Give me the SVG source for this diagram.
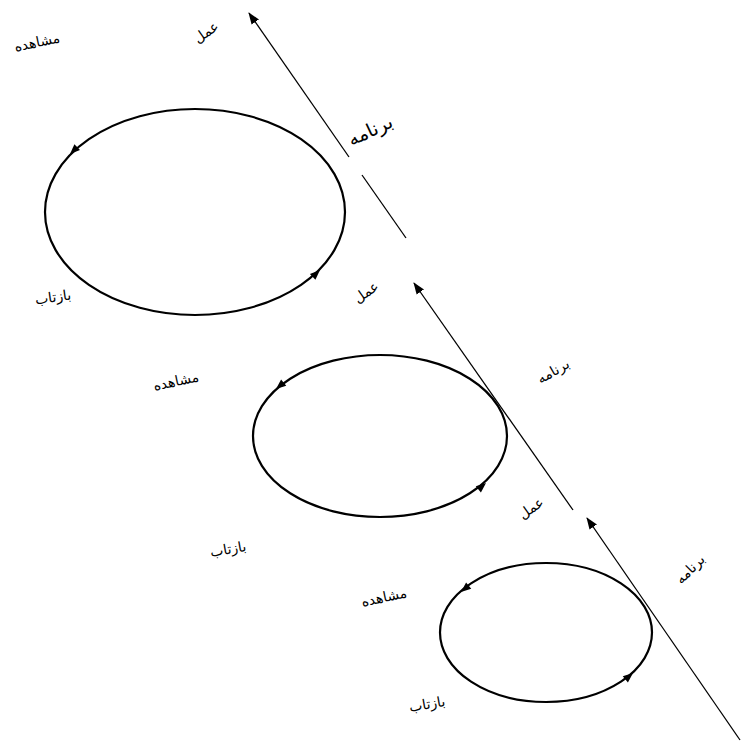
<svg xmlns="http://www.w3.org/2000/svg" xmlns:xlink="http://www.w3.org/1999/xlink" width="741" height="747" viewBox="0 0 741 747">
<style>
  .loop { fill: none; stroke: #000; stroke-width: 2.2; }
  .axis { fill: none; stroke: #000; stroke-width: 1.3; }
  .lbl { font-family: "DejaVu Sans", sans-serif; font-size: 14px; fill: #000; text-anchor: middle; dominant-baseline: central; }
  .big { font-size: 19px; }
</style>
<defs>
  <marker id="arr" markerUnits="userSpaceOnUse" markerWidth="12" markerHeight="10" viewBox="0 0 12 10" refX="11" refY="5" orient="auto">
    <path d="M0,0.5 L12,5 L0,9.5 Z" fill="#000"/>
  </marker>
  <path id="tri" d="M0,0 L-10,-4 L-10,4 Z" fill="#000"/>
</defs>
<rect width="741" height="747" fill="#fff"/>

<g id="connectors">
  <line class="axis" x1="349" y1="157" x2="249" y2="13" marker-end="url(#arr)"/>
  <line class="axis" x1="362" y1="175" x2="406" y2="238"/>
  <line class="axis" x1="573" y1="510" x2="414" y2="283" marker-end="url(#arr)"/>
  <line class="axis" x1="740" y1="740" x2="587" y2="518" marker-end="url(#arr)"/>
</g>

<g id="cycle1">
  <ellipse class="loop" cx="195" cy="212" rx="150" ry="103"/>
  <use xlink:href="#tri" transform="translate(70,154) rotate(136)"/>
  <use xlink:href="#tri" transform="translate(320,270) rotate(-43)"/>
</g>
<g id="cycle2">
  <ellipse class="loop" cx="380" cy="436" rx="127" ry="81"/>
  <use xlink:href="#tri" transform="translate(276,389) rotate(140)"/>
  <use xlink:href="#tri" transform="translate(486,483) rotate(-40)"/>
</g>
<g id="cycle3">
  <ellipse class="loop" cx="546" cy="632.5" rx="106" ry="69.5"/>
  <use xlink:href="#tri" transform="translate(461,592) rotate(140)"/>
  <use xlink:href="#tri" transform="translate(633,673) rotate(-40)"/>
</g>

<g id="labels">
  <text class="lbl" direction="rtl" transform="translate(37,42) rotate(-12)">مشاهده</text>
  <text class="lbl" direction="rtl" transform="translate(206,32) rotate(-35)">عمل</text>
  <text class="lbl big" direction="rtl" transform="translate(370,130) rotate(-25)">برنامه</text>
  <text class="lbl" direction="rtl" transform="translate(53,297) rotate(-8)">بازتاب</text>
  <text class="lbl" direction="rtl" transform="translate(366,292) rotate(-35)">عمل</text>
  <text class="lbl" direction="rtl" transform="translate(176,381) rotate(-12)">مشاهده</text>
  <text class="lbl" direction="rtl" transform="translate(553,371) rotate(-30)">برنامه</text>
  <text class="lbl" direction="rtl" transform="translate(531,508) rotate(-35)">عمل</text>
  <text class="lbl" direction="rtl" transform="translate(228,549) rotate(-10)">بازتاب</text>
  <text class="lbl" direction="rtl" transform="translate(384,597) rotate(-12)">مشاهده</text>
  <text class="lbl" direction="rtl" transform="translate(690,569) rotate(-45)">برنامه</text>
  <text class="lbl" direction="rtl" transform="translate(427,704) rotate(-10)">بازتاب</text>
</g>
</svg>
